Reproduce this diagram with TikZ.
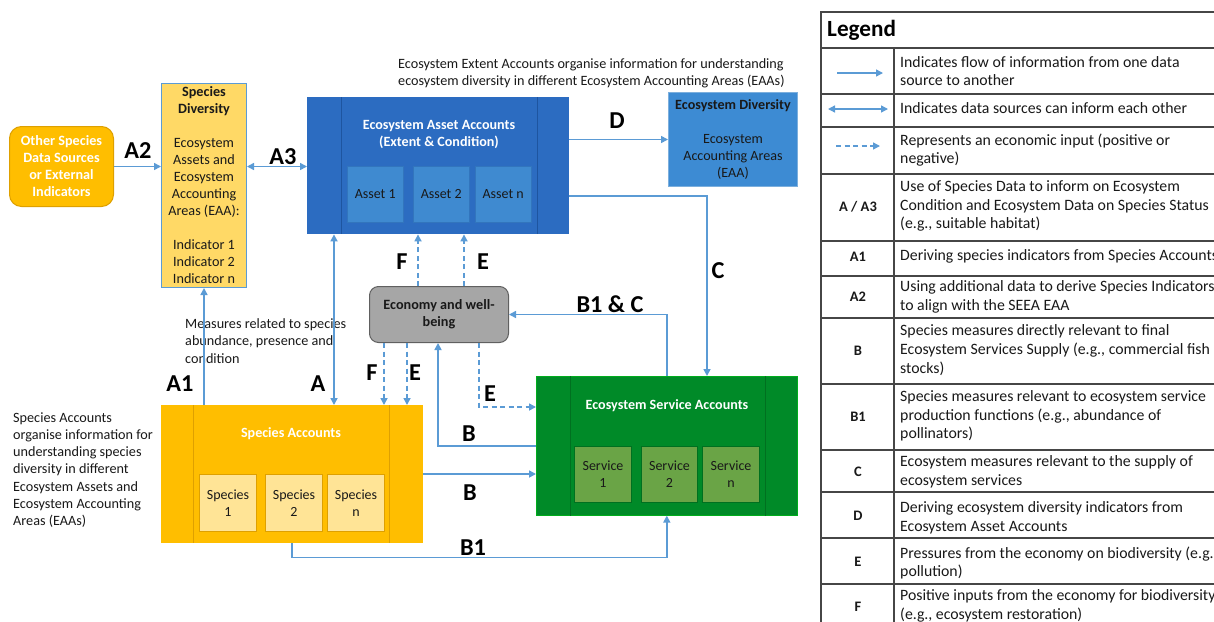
\documentclass[tikz,border=0pt]{standalone}
\usepackage{fontspec}
\setmainfont{Carlito}
\usetikzlibrary{arrows.meta,calc}
\definecolor{arrowc}{RGB}{91,155,213}
\definecolor{orangec}{RGB}{255,190,0}
\definecolor{orangeb}{RGB}{222,160,0}
\definecolor{yellowc}{RGB}{255,217,102}
\definecolor{lightyel}{RGB}{255,228,150}
\definecolor{bluec}{RGB}{44,108,193}
\definecolor{blueline}{RGB}{30,85,160}
\definecolor{assetc}{RGB}{63,138,208}
\definecolor{ecodivc}{RGB}{61,139,211}
\definecolor{greenc}{RGB}{0,138,40}
\definecolor{greenline}{RGB}{0,112,32}
\definecolor{servc}{RGB}{106,164,70}
\definecolor{grayc}{RGB}{166,166,166}
\definecolor{txt}{RGB}{25,25,25}
\definecolor{gridc}{RGB}{70,70,70}
\tikzset{
  tip/.tip={Triangle[length=7pt,width=7pt]},
  arr/.style={draw=arrowc, line width=1.6pt, -tip},
  darr/.style={draw=arrowc, line width=1.6pt, tip-tip},
  dasharr/.style={arr, dash pattern=on 5pt off 3.5pt},
  lab/.style={font=\fontsize{24.3}{26}\selectfont\bfseries, text=black, inner sep=0pt},
  plain/.style={font=\fontsize{14.2}{17.2}\selectfont, text=txt, inner sep=0pt, align=left},
  boxx/.style={anchor=north west, inner sep=0pt, align=center},
  title/.style={font=\fontsize{14.1}{17}\selectfont\bfseries, text=white, align=center, inner sep=0pt},
  small/.style={boxx, font=\fontsize{14}{17}\selectfont, text=txt},
  legtxt/.style={anchor=west, font=\fontsize{15.8}{18.7}\selectfont, text=txt, align=left, inner sep=0pt},
  legkey/.style={font=\fontsize{14.5}{16}\selectfont\bfseries, text=txt, inner sep=0pt},
  gridl/.style={draw=gridc, line width=1.1pt}
}
\begin{document}
\begin{tikzpicture}[x=1pt,y=-1pt]
\useasboundingbox (0,0) rectangle (1214,621);
\clip (0,0) rectangle (1214,621);
\fill[white] (0,0) rectangle (1214,621);

% ---------- boxes ----------
\node[boxx, fill=orangec, draw=orangeb, line width=1pt, rounded corners=12pt,
  minimum width=104pt, minimum height=80pt, text=white,
  font=\fontsize{14.2}{17}\selectfont\bfseries] (other) at (9,126)
  {Other Species\\Data Sources\\or External\\Indicators};

\node[boxx, fill=yellowc, draw=arrowc, line width=1pt, minimum width=85pt,
  minimum height=204pt, text=txt, font=\fontsize{14.2}{17}\selectfont] (sd) at (161,83)
  {\textbf{Species}\\\textbf{Diversity}\\[17pt]Ecosystem\\Assets and\\Ecosystem\\Accounting\\Areas (EAA):\\[17pt]Indicator 1\\Indicator 2\\Indicator n};

% Ecosystem Asset Accounts
\node[boxx, fill=bluec, minimum width=262pt, minimum height=137pt] (eaa) at (307,97) {};
\draw[blueline, line width=1pt] ([xshift=34pt]eaa.north west) -- ([xshift=34pt]eaa.south west);
\draw[blueline, line width=1pt] ([xshift=-32pt]eaa.north east) -- ([xshift=-32pt]eaa.south east);
\node[title] (eaat) at (439,134.5) {Ecosystem Asset Accounts\\(Extent \& Condition)};
\node[small, fill=assetc, draw=blueline!40!assetc, minimum width=56pt, minimum height=56pt] (a1) at (347,166) {Asset 1};
\node[small, fill=assetc, draw=blueline!40!assetc, minimum width=56pt, minimum height=56pt] (a2) at (413,166) {Asset 2};
\node[small, fill=assetc, draw=blueline!40!assetc, minimum width=56pt, minimum height=56pt] (an) at (475,166) {Asset n};

% Ecosystem Diversity
\node[boxx, fill=ecodivc, draw=arrowc!80!white, line width=1pt, minimum width=129pt,
  minimum height=94pt, text=txt, font=\fontsize{14.1}{17}\selectfont] (ecodiv) at (668,92)
  {\textbf{Ecosystem Diversity}\\[17pt]Ecosystem\\Accounting Areas\\(EAA)};

% Economy
\node[boxx, fill=grayc, draw=gray!75!black, line width=1pt, rounded corners=9pt,
  minimum width=139pt, minimum height=56pt, text=txt,
  font=\fontsize{14.2}{17}\selectfont\bfseries] (econ) at (369,286)
  {Economy and well-\\being};

% Species Accounts
\node[boxx, fill=orangec, minimum width=262pt, minimum height=138pt] (spa) at (161,405) {};
\draw[orangeb, line width=1pt] ([xshift=32pt]spa.north west) -- ([xshift=32pt]spa.south west);
\draw[orangeb, line width=1pt] ([xshift=-34pt]spa.north east) -- ([xshift=-34pt]spa.south east);
\node[title] (spat) at (291,434) {Species Accounts};
\node[small, fill=lightyel, draw=orangeb, line width=1pt, minimum width=57pt, minimum height=57pt] (s1) at (199,474) {Species\\1};
\node[small, fill=lightyel, draw=orangeb, line width=1pt, minimum width=57pt, minimum height=57pt] (s2) at (265,474) {Species\\2};
\node[small, fill=lightyel, draw=orangeb, line width=1pt, minimum width=57pt, minimum height=57pt] (sn) at (327,474) {Species\\n};

% Ecosystem Service Accounts
\node[boxx, fill=greenc, draw=green!30!greenc, line width=0.6pt, minimum width=261pt, minimum height=139pt] (esa) at (536,376) {};
\draw[greenline, line width=0.8pt] ([xshift=34pt]esa.north west) -- ([xshift=34pt]esa.south west);
\draw[greenline, line width=0.8pt] ([xshift=-32pt]esa.north east) -- ([xshift=-32pt]esa.south east);
\node[title] (esat) at (667,406) {Ecosystem Service Accounts};
\node[small, fill=servc, draw=greenline, line width=1pt, minimum width=57pt, minimum height=56pt] (v1) at (574,446) {Service\\1};
\node[small, fill=servc, draw=greenline, line width=1pt, minimum width=56pt, minimum height=56pt] (v2) at (641,446) {Service\\2};
\node[small, fill=servc, draw=greenline, line width=1pt, minimum width=57pt, minimum height=56pt] (vn) at (702,446) {Service\\n};

% ---------- free texts ----------
\node[plain, anchor=west] (capt) at (398,73) {Ecosystem Extent Accounts organise information for understanding\\ecosystem diversity in different Ecosystem Accounting Areas (EAAs)};
\node[plain, anchor=west] (meas) at (185,341) {Measures related to species\\abundance, presence and\\condition};
\node[plain, anchor=west] (spcap) at (13,470) {Species Accounts\\organise information for\\understanding species\\diversity in different\\Ecosystem Assets and\\Ecosystem Accounting\\Areas (EAAs)};

% ---------- connectors ----------
\coordinate (ax) at (334,0);
\coordinate (fup) at (418,0);
\coordinate (eup) at (464,0);
\coordinate (fdn) at (384,0);
\coordinate (edn) at (407,0);
\coordinate (cturn) at (707,196);
\coordinate (eturn) at (479,407);
\coordinate (bturn) at (438,446);
\coordinate (by) at (0,474);

\draw[arr] (other.east) -- (sd.west |- other.east);
\draw[darr] (sd.east |- other.east) -- (eaa.west |- other.east);
\draw[arr] (eaa.east |- ecodiv.west) -- (ecodiv.west);
\draw[arr] (eaa.east |- cturn) -- (cturn) -- (cturn |- esa.north);
\draw[darr] (ax |- eaa.south) -- (ax |- spa.north);
\draw[arr] (sd.south |- spa.north) -- (sd.south);
\draw[dasharr] (fup |- econ.north) -- (fup |- eaa.south);
\draw[dasharr] (eup |- econ.north) -- (eup |- eaa.south);
\draw[dasharr] (fdn |- econ.south) -- (fdn |- spa.north);
\draw[dasharr] (edn |- econ.south) -- (edn |- spa.north);
\draw[dasharr] (eturn |- econ.south) -- (eturn) -- (esa.west |- eturn);
\draw[arr] (esa.west |- bturn) -- (bturn) -- (bturn |- econ.south);
\draw[arr] (spa.east |- by) -- (esa.west |- by);
\draw[arr] (spa.south) -- ++(0,14) -| (esa.south);
\draw[arr] (esa.north) |- (econ.east);

% ---------- connector labels ----------
\node[lab] (lA2) at (138,151) {A2};
\node[lab] (lA3) at (283,157) {A3};
\node[lab] (lD) at (617,121) {D};
\node[lab] (lC) at (718,271) {C};
\node[lab] (lFu) at (402,262) {F};
\node[lab] (lEu) at (483,262) {E};
\node[lab] (lB1C) at (610,304) {B1 \& C};
\node[lab] (lA1) at (180,384) {A1};
\node[lab] (lA) at (318,384) {A};
\node[lab] (lFd) at (372,373) {F};
\node[lab] (lEd) at (415,373) {E};
\node[lab] (lEr) at (490,394) {E};
\node[lab] (lBu) at (469,434) {B};
\node[lab] (lBd) at (470,493) {B};
\node[lab] (lB1) at (473,548) {B1};

% ---------- legend ----------
\coordinate (lgnw) at (821,12);
\coordinate (lgse) at (1260,660);
\draw[gridl] (lgse |- lgnw) -- (lgnw) -- (lgnw |- lgse);
\foreach \yy in {48,94,127,174,241,276,318,384,450,492,538,584}
  \draw[gridl] (821,\yy) -- (1260,\yy);
\draw[gridl] (894,48) -- (894,660);
\node[anchor=west, font=\fontsize{23.2}{25}\selectfont\bfseries, text=black, inner sep=0pt] (legt) at (827,30) {Legend};

\coordinate (k1a) at (837,73);  \coordinate (k1b) at (883,73);
\coordinate (k2a) at (828,109); \coordinate (k2b) at (888,109);
\coordinate (k3a) at (836,146); \coordinate (k3b) at (880,146);
\draw[arr, line width=1.4pt] (k1a) -- (k1b);
\draw[darr, line width=1.4pt] (k2a) -- (k2b);
\draw[dasharr, line width=1.4pt] (k3a) -- (k3b);

\node[legtxt] (t1) at (900,71) {Indicates flow of information from one data\\source to another};
\node[legtxt] (t2) at (900,108) {Indicates data sources can inform each other};
\node[legtxt] (t3) at (900,150) {Represents an economic input (positive or\\negative)};
\node[legtxt] (t4) at (900,206) {Use of Species Data to inform on Ecosystem\\Condition and Ecosystem Data on Species Status\\(e.g., suitable habitat)};
\node[legtxt] (t5) at (900,256) {Deriving species indicators from Species Accounts};
\node[legtxt] (t6) at (900,297) {Using additional data to derive Species Indicators\\to align with the SEEA EAA};
\node[legtxt] (t7) at (900,350) {Species measures directly relevant to final\\Ecosystem Services Supply (e.g., commercial fish\\stocks)};
\node[legtxt] (t8) at (900,416) {Species measures relevant to ecosystem service\\production functions (e.g., abundance of\\pollinators)};
\node[legtxt] (t9) at (900,472) {Ecosystem measures relevant to the supply of\\ecosystem services};
\node[legtxt] (t10) at (900,518) {Deriving ecosystem diversity indicators from\\Ecosystem Asset Accounts};
\node[legtxt] (t11) at (900,563) {Pressures from the economy on biodiversity (e.g.,\\pollution)};
\node[legtxt] (t12) at (900,606) {Positive inputs from the economy for biodiversity\\(e.g., ecosystem restoration)};

\node[legkey] (k4) at (858,207) {A / A3};
\node[legkey] (k5) at (858,257) {A1};
\node[legkey] (k6) at (858,297) {A2};
\node[legkey] (k7) at (858,351) {B};
\node[legkey] (k8) at (858,417) {B1};
\node[legkey] (k9) at (858,472) {C};
\node[legkey] (k10) at (858,516) {D};
\node[legkey] (k11) at (858,562) {E};
\node[legkey] (k12) at (858,607) {F};
\end{tikzpicture}
\end{document}
